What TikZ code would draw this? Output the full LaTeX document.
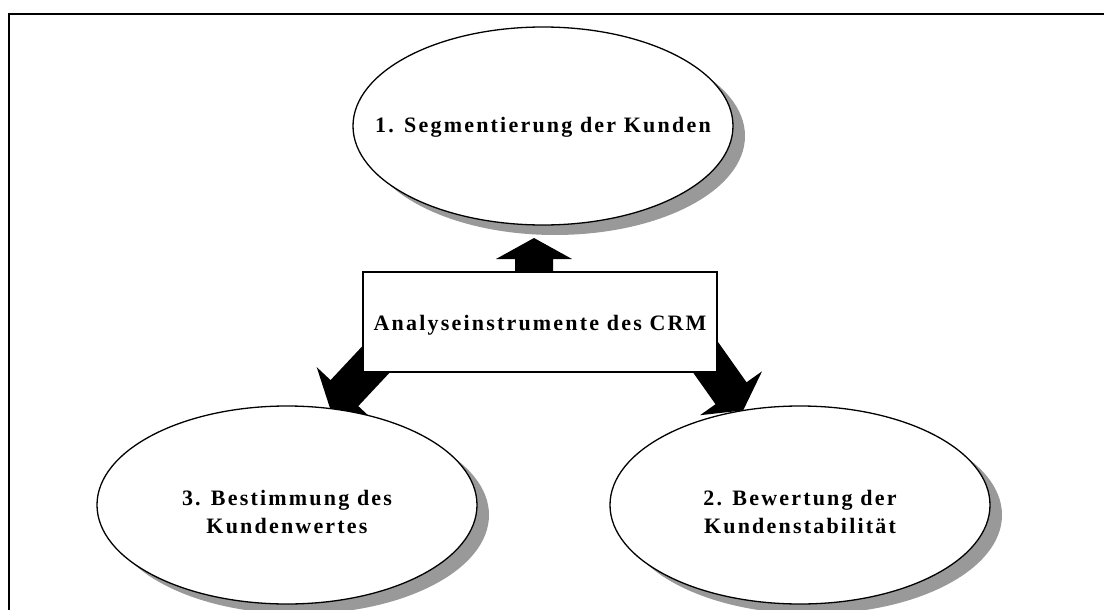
\documentclass[tikz,border=0pt]{standalone}
\usepackage{fontspec}
\setmainfont{Liberation Serif}
\newfontfamily\labelfont{Liberation Serif}[LetterSpace=10]
\usetikzlibrary{calc,shadows,shapes.geometric}
\pgfdeclarelayer{back}
\pgfsetlayers{back,main}

% thick block arrow from #1 to the tip #2
\newcommand\blockarrow[2]{%
  \fill[arrowfill] let \p1=($(#2)-(#1)$), \n1={atan2(\y1,\x1)}, \n2={veclen(\x1,\y1)} in
    [shift={(#1)}, rotate=\n1]
    (0pt,-19pt) -- ({\n2-21pt},-19pt) -- ({\n2-21pt},-38pt) -- ({\n2+0pt},0pt)
    -- ({\n2-21pt},38pt) -- ({\n2-21pt},19pt) -- (0pt,19pt) -- cycle;}

\begin{document}
\begin{tikzpicture}[x=1pt,y=-1pt,
  txt/.style={font=\labelfont\bfseries\fontsize{22}{28}\selectfont, align=center, inner sep=0pt},
  bubble/.style={ellipse, draw=black, line width=1.3pt, fill=white,
    minimum width=380pt, minimum height=198pt, inner sep=0pt, outer sep=0pt,
    drop shadow={shadow xshift=12pt, shadow yshift=-10pt, fill=black!40, opacity=1}},
  panel/.style={rectangle, draw=black, line width=1.2pt, fill=white,
    minimum width=354pt, minimum height=100pt, inner sep=0pt, outer sep=0pt,
    font=\labelfont\bfseries\fontsize{22}{28}\selectfont, text height=16pt, text depth=0pt},
  frameline/.style={line width=2.6pt},
  arrowfill/.style={fill=black}]
\useasboundingbox (0,0) rectangle (1104,610);

% outer frame
\coordinate (fl) at (9,610);
\coordinate (fc) at (9,14);
\coordinate (fr) at (1104,14);
\draw[frameline] (fl) -- (fc) -- (fr);

% the three steps
\node[bubble] (e1) at (543,126) {};
\node[txt, anchor=base] (t1) at ($(e1.center)+(0,6)$) {1. Segmentierung der Kunden};
\node[bubble] (e3) at (287,505) {};
\node[txt] (t3) at ($(e3.center)+(0,7)$) {3. Bestimmung des\\Kundenwertes};
\node[bubble] (e2) at (800,505) {};
\node[txt] (t2) at ($(e2.center)+(0,7)$) {2. Bewertung der\\Kundenstabilität};

% central box
\node[panel] (box) at (540,322) {Analyseinstrumente des CRM};

% arrows from the box to the steps
\coordinate (s1) at ($(box.north)+(-6,20)$);
\coordinate (h1) at ($(e1.south)+(-9,13)$);
\coordinate (s3) at ($(box.south west)+(19,-19)$);
\coordinate (s2) at ($(box.south east)+(-18,-24)$);
\begin{pgfonlayer}{back}
  \blockarrow{s1}{h1}
  \blockarrow{s3}{e3.66}
  \blockarrow{s2}{e2.121}
\end{pgfonlayer}
\end{tikzpicture}
\end{document}
